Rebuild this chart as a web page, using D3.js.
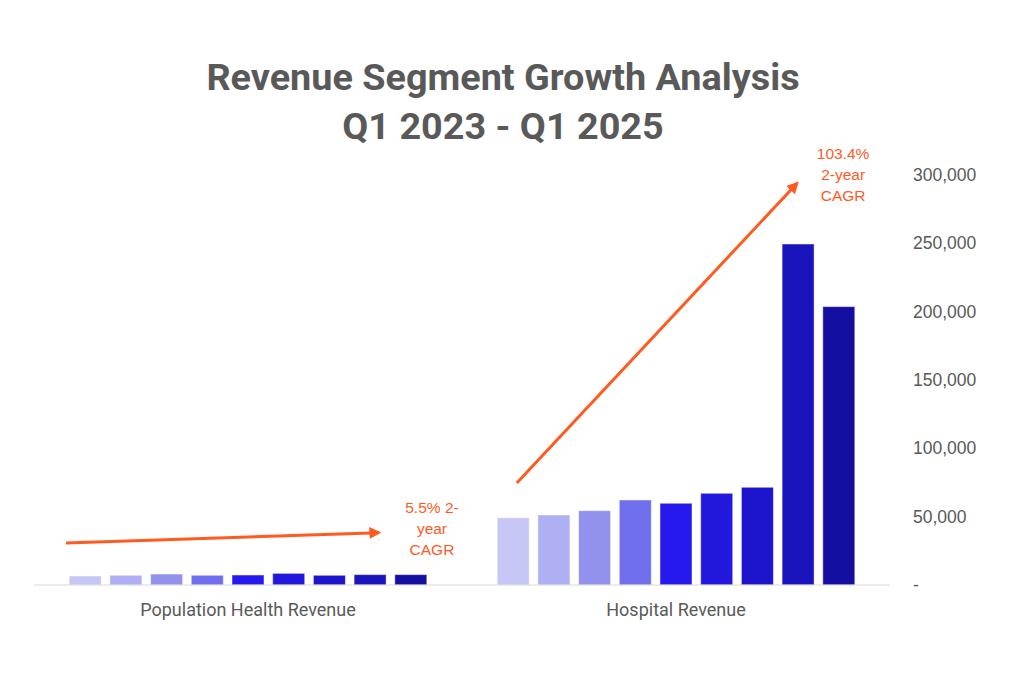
<!DOCTYPE html>
<html>
<head>
<meta charset="utf-8">
<script src="https://cdn.jsdelivr.net/npm/d3@7"></script>
<style>
  html, body { margin: 0; padding: 0; background: #fff; }
  svg { display: block; }
</style>
</head>
<body>
<script>
// values
const categories = ["Population Health Revenue", "Hospital Revenue"];
const quarters = ["Q1 2023", "Q2 2023", "Q3 2023", "Q4 2023", "Q1 2024", "Q2 2024", "Q3 2024", "Q4 2024", "Q1 2025"];
const populationHealth = [6600, 7100, 8000, 7100, 7300, 8500, 7100, 7600, 7600];
const hospital = [49200, 51200, 54400, 62200, 59800, 67100, 71500, 249500, 203700];
const quarterColors = ["#c6c6f7", "#afaff3", "#9292ee", "#6f6fee", "#2519ee", "#2218dd", "#1d14cd", "#1a14bc", "#140fa0"];
const yTicks = [0, 50000, 100000, 150000, 200000, 250000, 300000];
const titleLines = ["Revenue Segment Growth Analysis", "Q1 2023 - Q1 2025"];
// CAGR arrows: start/end as [category, fraction across band, value]
const cagrNotes = [
  { from: [0, 0.075, 30700], to: [0, 0.806, 38300], lines: ["5.5% 2-", "year", "CAGR"] },
  { from: [1, 0.128, 74600], to: [1, 0.783, 294000], lines: ["103.4%", "2-year", "CAGR"] }
];

const width = 1024, height = 674;
const grey = "#595959", orange = "#ff5a1f";

const svg = d3.select("body").append("svg")
  .attr("width", width)
  .attr("height", height);

const defs = svg.append("defs");
defs.append("marker")
  .attr("id", "head")
  .attr("viewBox", "0 0 10 10")
  .attr("refX", 8).attr("refY", 5)
  .attr("markerWidth", 4).attr("markerHeight", 4)
  .attr("orient", "auto")
  .append("path")
  .attr("d", "M0,0L10,5L0,10z")
  .attr("fill", orange);

// scales
const x0 = d3.scaleBand().domain(categories).range([34, 890]);
const x1 = d3.scaleBand().domain(quarters).range([0, x0.bandwidth()])
  .paddingInner(0.214).paddingOuter(0.865);
const y = d3.scaleLinear().domain([0, 300000]).range([585, 175]);

// title
svg.append("g")
  .selectAll("text")
  .data(titleLines)
  .join("text")
  .attr("x", 503)
  .attr("y", (d, i) => 90 + i * 49)
  .attr("text-anchor", "middle")
  .attr("font-family", "Roboto, sans-serif")
  .attr("font-weight", "bold")
  .attr("font-size", 37.8)
  .attr("fill", grey)
  .text(d => d);

// bars
const groups = [populationHealth, hospital];
const g = svg.append("g")
  .selectAll("g")
  .data(categories)
  .join("g")
  .attr("transform", d => `translate(${x0(d)},0)`);

g.selectAll("rect")
  .data((d, i) => groups[i].map((v, j) => ({ q: quarters[j], v, c: quarterColors[j] })))
  .join("rect")
  .attr("x", d => x1(d.q))
  .attr("width", x1.bandwidth())
  .attr("y", d => y(d.v))
  .attr("height", d => y(0) - y(d.v))
  .attr("fill", d => d.c)
  .attr("stroke", "rgba(255,255,255,0.45)")
  .attr("stroke-width", 1);

// baseline
svg.append("line")
  .attr("x1", x0.range()[0]).attr("x2", x0.range()[1])
  .attr("y1", y(0)).attr("y2", y(0))
  .attr("stroke", "#d9d9d9")
  .attr("stroke-width", 1.2);

// category labels
svg.append("g")
  .selectAll("text")
  .data(categories)
  .join("text")
  .attr("x", d => x0(d) + x0.bandwidth() / 2)
  .attr("y", 616)
  .attr("text-anchor", "middle")
  .attr("font-family", "Roboto, sans-serif")
  .attr("font-size", 18)
  .attr("fill", grey)
  .text(d => d);

// right value axis, labels left aligned
const yAxis = d3.axisRight(y)
  .tickValues(yTicks)
  .tickSize(0)
  .tickPadding(0)
  .tickFormat(d => d === 0 ? "-" : d3.format(",")(d));

svg.append("g")
  .attr("transform", "translate(913,0)")
  .call(yAxis)
  .call(a => a.select(".domain").remove())
  .selectAll("text")
  .attr("font-family", "'Liberation Sans', Arial, sans-serif")
  .attr("font-size", 17.5)
  .attr("fill", grey);

// CAGR arrows and notes
const px = p => x0(categories[p[0]]) + p[1] * x0.bandwidth();
const notes = svg.append("g");
notes.selectAll("line")
  .data(cagrNotes)
  .join("line")
  .attr("x1", d => px(d.from)).attr("y1", d => y(d.from[2]))
  .attr("x2", d => px(d.to)).attr("y2", d => y(d.to[2]))
  .attr("stroke", orange)
  .attr("stroke-width", 3)
  .attr("marker-end", "url(#head)");

const offsets = [[53, -20], [46, -24]];
notes.selectAll("text")
  .data(cagrNotes)
  .join("text")
  .attr("text-anchor", "middle")
  .attr("font-family", "'Liberation Sans', Arial, sans-serif")
  .attr("font-size", 15.5)
  .attr("fill", orange)
  .each(function (d, i) {
    const tx = px(d.to) + offsets[i][0];
    const ty = y(d.to[2]) + offsets[i][1];
    d3.select(this).selectAll("tspan")
      .data(d.lines)
      .join("tspan")
      .attr("x", tx)
      .attr("y", (l, k) => ty + k * 21)
      .text(l => l);
  });
</script>
</body>
</html>
